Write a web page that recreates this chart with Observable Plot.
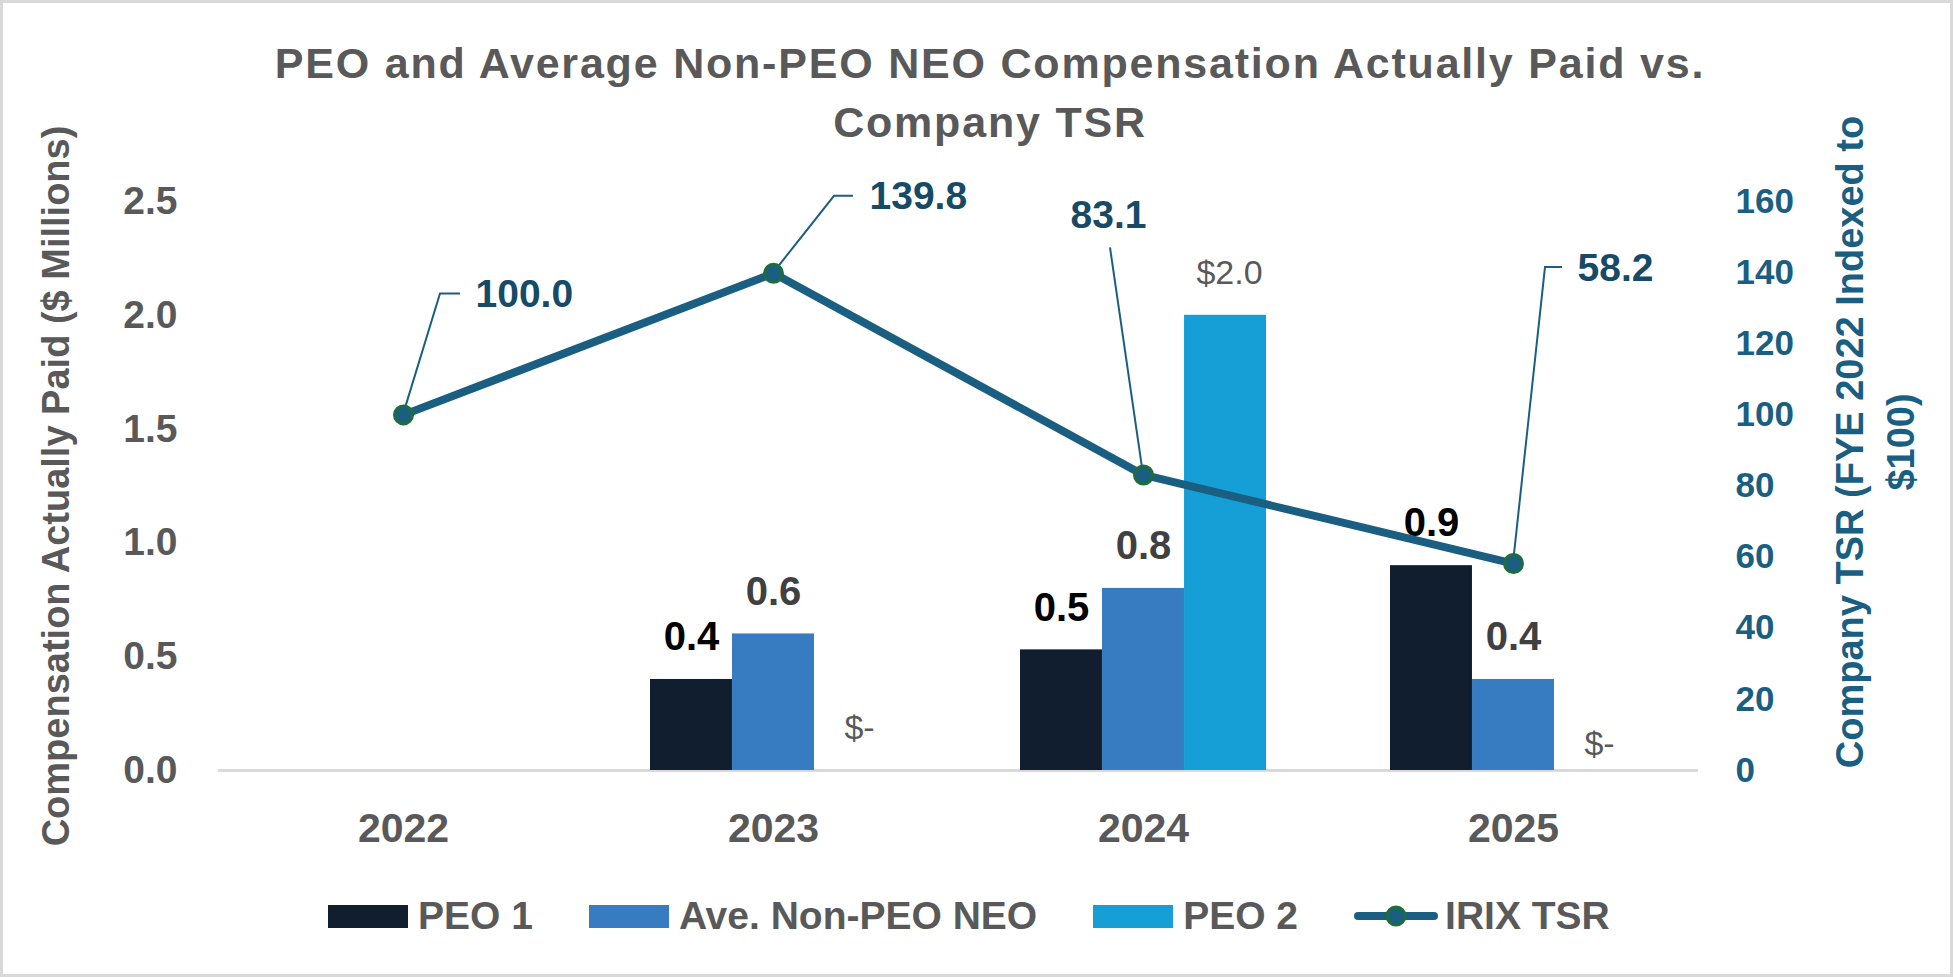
<!DOCTYPE html>
<html>
<head>
<meta charset="utf-8">
<script src="https://cdn.jsdelivr.net/npm/d3@7"></script>
<script src="https://cdn.jsdelivr.net/npm/@observablehq/plot@0.6"></script>
<style>
  html, body { margin: 0; padding: 0; background: #fff; }
  #wrap { position: relative; width: 1953px; height: 977px; overflow: hidden;
          font-family: "Liberation Sans", Arial, sans-serif; background: #fff; }
  #frame { position: absolute; left: 0; top: 0; width: 1953px; height: 977px; box-sizing: border-box;
           border: 3px solid #d9d9d9; pointer-events: none; }
  #chart { position: absolute; left: 0; top: 0; }
  #title { position: absolute; left: 0; top: 34px; width: 1980px; text-align: center;
           font-weight: bold; font-size: 43px; letter-spacing: 1.8px; line-height: 59px; color: #595959; }
  #legend { position: absolute; left: 328px; top: 891px; height: 50px; display: flex; align-items: center;
            font-weight: bold; font-size: 39px; color: #595959; white-space: nowrap; }
  .item { display: flex; align-items: center; margin-right: 56px; }
  .sw { width: 80px; height: 23px; margin-right: 10px; }
</style>
</head>
<body>
<div id="wrap">
  <div id="chart"></div>
  <div id="title">PEO and Average Non-PEO NEO Compensation Actually Paid vs.<br>Company TSR</div>
  <div id="legend"></div>
  <div id="frame"></div>
</div>
<script>
// ---- data ----
const years = ["2022", "2023", "2024", "2025"];
const peo1 = [null, 0.4, 0.53, 0.9];
const aveNonPeoNeo = [null, 0.6, 0.8, 0.4];
const peo2 = [null, 0, 2.0, 0];
const irixTsr = [100.0, 139.8, 83.1, 58.2];
const leftTicks = [0, 0.5, 1.0, 1.5, 2.0, 2.5];
const rightTicks = [0, 20, 40, 60, 80, 100, 120, 140, 160];
const seriesNames = ["PEO 1", "Ave. Non-PEO NEO", "PEO 2", "IRIX TSR"];
const leftTitle = "Compensation Actually Paid ($ Millions)";
const rightTitle = "Company TSR (FYE 2022 Indexed to\n$100)";

// ---- styles ----
const W = 1953, H = 977;
const mL = 218, mR = 255, mT = 201, mB = 207;
const colors = { peo1: "#101e2f", ave: "#377bc0", peo2: "#159fd6", line: "#1a5f82", dotStroke: "#1f6e3a",
                 tsrLabel: "#164a66", gray: "#595959" };
const padIn = 0.335;
const step = (W - mL - mR) / years.length;
const bw = step * (1 - padIn) / 3; // one bar width inside the group
const k = 2.5 / 160; // right axis -> left axis
// label placement (pixel offsets from each TSR point), per year
const tsrLabelPos = [
  { dx: 72, dy: -120, anchor: "start", leader: [[0, 0], [37, -121], [57, -121]] },
  { dx: 96, dy: -77, anchor: "start", leader: [[0, 0], [61, -77], [80, -77]] },
  { dx: -35, dy: -259, anchor: "middle", leader: [[0, 0], [-33, -227]] },
  { dx: 64, dy: -295, anchor: "start", leader: [[0, 0], [32, -296], [49, -296]] }
];

const mk = (arr) => years.map((year, i) => ({ year, value: arr[i] })).filter(d => d.value != null);
const peo1Data = mk(peo1), aveData = mk(aveNonPeoNeo), peo2Data = mk(peo2);
const tsrData = years.map((year, i) => ({ year, tsr: irixTsr[i] }));

const marks = [
  Plot.ruleY([0], { stroke: "#d9d9d9", strokeWidth: 3 }),
  Plot.barY(peo1Data, { x: "year", y: "value", fill: colors.peo1, insetRight: 2 * bw }),
  Plot.barY(aveData, { x: "year", y: "value", fill: colors.ave, insetLeft: bw, insetRight: bw }),
  Plot.barY(peo2Data, { x: "year", y: "value", fill: colors.peo2, insetLeft: 2 * bw }),
  Plot.text(peo1Data, { x: "year", y: "value", text: d => d.value.toFixed(1), dx: -bw, dy: -42,
                        fill: "#000", fontWeight: "bold", fontSize: 40 }),
  Plot.text(aveData, { x: "year", y: "value", text: d => d.value.toFixed(1), dx: 0, dy: -42,
                       fill: "#404040", fontWeight: "bold", fontSize: 40 }),
  Plot.text(peo2Data.filter(d => d.year !== "2025"), { x: "year", y: "value",
                       text: d => d.value === 0 ? "$-" : "$" + d.value.toFixed(1), dx: bw + 4, dy: -42,
                       fill: colors.gray, fontSize: 34 }),
  Plot.text(peo2Data.filter(d => d.year === "2025"), { x: "year", y: "value",
                       text: d => d.value === 0 ? "$-" : "$" + d.value.toFixed(1), dx: bw + 4, dy: -26,
                       fill: colors.gray, fontSize: 34 }),
  Plot.line(tsrData, { x: "year", y: d => d.tsr * k, stroke: colors.line, strokeWidth: 8 }),
  Plot.dot(tsrData, { x: "year", y: d => d.tsr * k, r: 9, fill: colors.line, stroke: colors.dotStroke, strokeWidth: 3 }),
  ...tsrData.map((d, i) => Plot.text([d], { x: "year", y: e => e.tsr * k, text: e => e.tsr.toFixed(1),
      dx: tsrLabelPos[i].dx, dy: tsrLabelPos[i].dy, textAnchor: tsrLabelPos[i].anchor,
      fill: colors.tsrLabel, fontWeight: "bold", fontSize: 39 })),
  Plot.axisY(leftTicks, { anchor: "left", tickSize: 0, tickPadding: 41, tickFormat: d3.format(".1f"),
      fontSize: 39, fontWeight: "bold", color: colors.gray, label: null }),
  Plot.axisY(rightTicks.map(v => v * k), { anchor: "right", tickSize: 0, tickPadding: 37,
      tickFormat: d => String(Math.round(d / k)), fontSize: 35, fontWeight: "bold", color: colors.line, label: null }),
  Plot.axisX({ tickSize: 0, tickPadding: 42, fontSize: 41, fontWeight: "bold", color: colors.gray, label: null }),
  Plot.text([leftTitle], { frameAnchor: "left", text: d => d, rotate: -90, dx: -162, textAnchor: "middle",
      lineAnchor: "middle", fontSize: 38, fontWeight: "bold", fill: colors.gray }),
  Plot.text([rightTitle], { frameAnchor: "right", text: d => d, rotate: -90, dx: 174, dy: -44, textAnchor: "middle",
      lineAnchor: "middle", lineHeight: 1.32, fontSize: 38, fontWeight: "bold", fill: colors.line })
];

const plot = Plot.plot({
  width: W, height: H,
  marginLeft: mL, marginRight: mR, marginTop: mT, marginBottom: mB,
  style: { fontFamily: "'Liberation Sans', Arial, sans-serif", background: "transparent", overflow: "visible" },
  x: { type: "band", domain: years, paddingInner: padIn, paddingOuter: padIn / 2 },
  y: { domain: [0, 2.5] },
  marks
});
document.getElementById("chart").appendChild(plot);

// leader lines for TSR labels, positioned through the plot's own scales
const sx = plot.scale("x"), sy = plot.scale("y");
const svg = d3.select(plot.tagName.toLowerCase() === "svg" ? plot : plot.querySelector("svg"));
const g = svg.insert("g", "g[aria-label=dot]");
tsrData.forEach((d, i) => {
  const px = sx.apply(d.year) + sx.bandwidth / 2;
  const py = sy.apply(d.tsr * k);
  const pts = tsrLabelPos[i].leader.map(([ox, oy]) => [px + ox, py + oy]);
  g.append("path").attr("d", d3.line()(pts)).attr("fill", "none")
    .attr("stroke", colors.line).attr("stroke-width", 2);
});

// legend
const legend = document.getElementById("legend");
const swatches = [colors.peo1, colors.ave, colors.peo2];
seriesNames.forEach((name, i) => {
  const item = document.createElement("div");
  item.className = "item";
  if (i < 3) {
    item.innerHTML = `<div class="sw" style="background:${swatches[i]}"></div><span>${name}</span>`;
  } else {
    item.innerHTML = `<svg width="84" height="30" style="margin-right:7px"><line x1="4" y1="15" x2="80" y2="15" stroke="${colors.line}" stroke-width="8" stroke-linecap="round"/><circle cx="42" cy="15" r="9" fill="${colors.line}" stroke="${colors.dotStroke}" stroke-width="3"/></svg><span>${name}</span>`;
  }
  legend.appendChild(item);
});
</script>
</body>
</html>
